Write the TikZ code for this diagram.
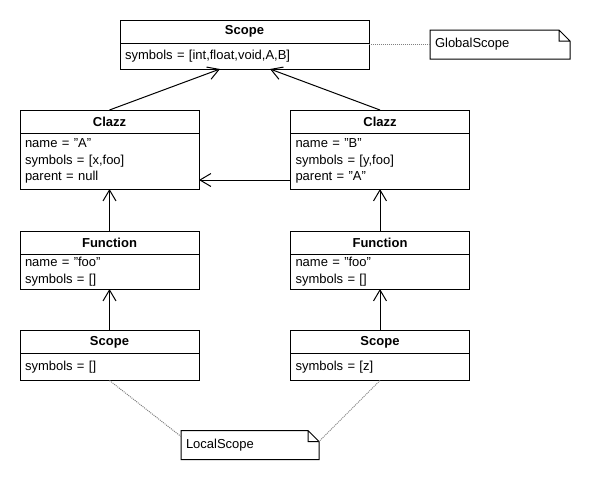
\documentclass[tikz,border=0pt]{standalone}
\usepackage{fontspec}
\setmainfont{Liberation Sans}
\usetikzlibrary{calc,positioning,arrows.meta}
\newcommand\umlfont{\fontsize{13}{16.5}\selectfont}
\tikzset{%
	hdr/.style={draw,outer sep=0pt,inner sep=0pt,minimum width=#1,minimum height=23pt,font=\umlfont\bfseries},
	hdr/.default=179pt,
	attr/.style={draw,outer sep=0pt,inner xsep=5pt,inner ysep=0pt,text width=169pt,align=left,font=\umlfont,below=0pt of #1},
	note/.style={outer sep=0pt,inner xsep=5pt,inner ysep=0pt,minimum height=29pt,text width=#1,align=left,font=\umlfont},
	assoc/.style={-{Straight Barb[length=11pt,width=13pt]}},
	link/.style={densely dotted,gray}
}
\begin{document}
\begin{tikzpicture}[x=1pt,y=-1pt,line width=1pt]
	\useasboundingbox (0,0) rectangle (590,480);
	% global scope
	\node [hdr=249pt] (gscope) at (244.5,31.5) {Scope};
	\node [attr=gscope, text width=239pt, minimum height=26pt] (gscopeb) {symbols = [int,float,void,A,B]};
	% classes
	\node [hdr] (clA) at (109.5,121.5) {Clazz};
	\node [attr=clA, minimum height=56pt] (clAb) {name = "A"\\symbols = [x,foo]\\parent = null};
	\node [hdr] (clB) at (380,121.5) {Clazz};
	\node [attr=clB, minimum height=56pt] (clBb) {name = "B"\\symbols = [y,foo]\\parent = "A"};
	% functions
	\node [hdr] (fnA) at (109.5,242.5) {Function};
	\node [attr=fnA, minimum height=35pt] (fnAb) {name = "foo"\\symbols = []};
	\node [hdr] (fnB) at (380,242.5) {Function};
	\node [attr=fnB, minimum height=35pt] (fnBb) {name = "foo"\\symbols = []};
	% local scopes
	\node [hdr] (scA) at (109.5,342) {Scope};
	\node [attr=scA, minimum height=27pt] (scAb) {symbols = []};
	\node [hdr] (scB) at (380,342) {Scope};
	\node [attr=scB, minimum height=27pt] (scBb) {symbols = [z]};
	% notes
	\node [note=130pt] (gnote) at (500,44.5) {GlobalScope};
	\node [note=128pt] (lnote) at (250,445) {LocalScope};
	\foreach \n in {gnote,lnote}
		\draw (\n.north west) -- ([xshift=-11pt]\n.north east) -- ([yshift=-11pt]\n.north east) -- (\n.south east) -- (\n.south west) -- cycle
			([xshift=-11pt]\n.north east) |- ([yshift=-11pt]\n.north east);
	\draw [assoc] (clA.north) -- ([xshift=-24.5pt]gscopeb.south);
	\draw [assoc] (clB.north) -- ([xshift=25.5pt]gscopeb.south);
	\draw [assoc] ([yshift=9pt]clBb.south west) -- ([yshift=9pt]clAb.south east);
	\foreach \a/\b in {fnA/clAb,fnB/clBb,scA/fnAb,scB/fnBb}
		\draw [assoc] (\a.north) -- (\b.south);
	\draw [link] (gnote.west) -- (gnote.west -| gscope.east);
	\draw [link] (scAb.south) -- ([yshift=-6pt]lnote.north west);
	\draw [link] (scBb.south) -- ([yshift=-11pt]lnote.north east);
\end{tikzpicture}
\end{document}
